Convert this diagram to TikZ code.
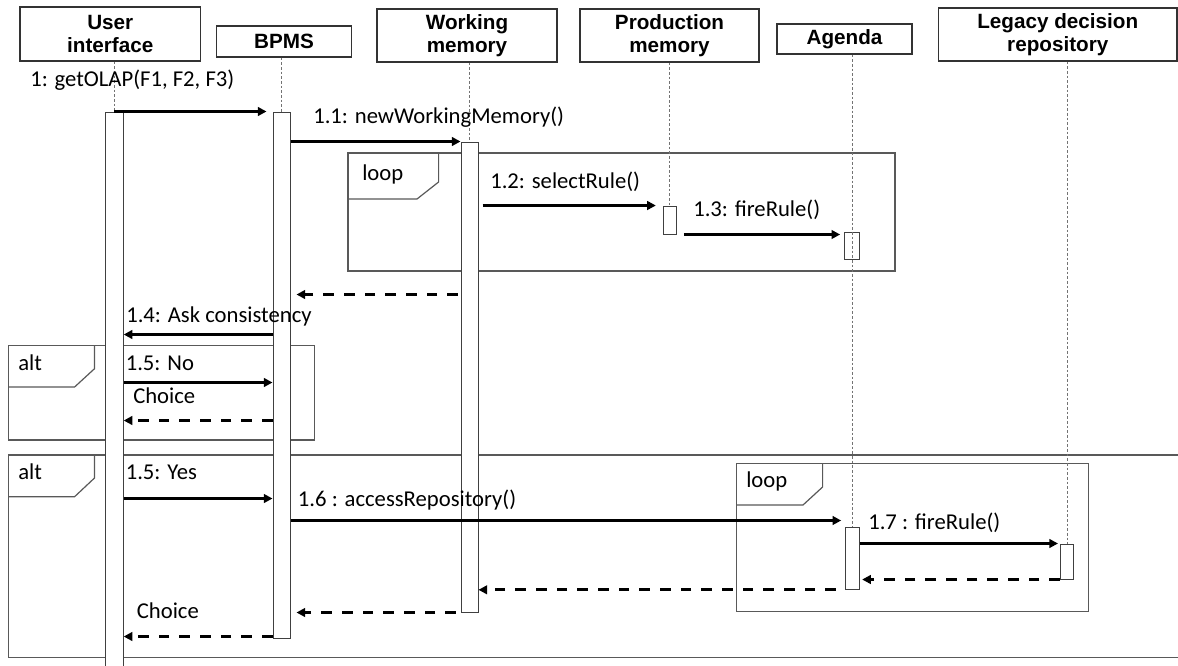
\documentclass[tikz,border=0pt]{standalone}
\usepackage{fontspec}
\setmainfont{Carlito}
\newfontfamily\headfont{Liberation Sans}
\usetikzlibrary{arrows.meta,fit}
\begin{document}
\begin{tikzpicture}[x=0.75pt,y=-0.75pt,
  head/.style={draw=black!80, line width=0.9pt, inner sep=0pt, align=center,
    font=\headfont\bfseries\fontsize{15.5}{17}\selectfont},
  bar/.style={draw=black!75, line width=0.75pt, fill=white, inner sep=0pt},
  frame/.style={draw=black!65, line width=0.9pt},
  life/.style={draw=black!55, line width=0.7pt, dash pattern=on 2pt off 1.5pt},
  msg/.style={line width=2.25pt, -{Triangle[length=6.5pt,width=6.5pt]}},
  ret/.style={line width=2.4pt, dash pattern=on 8pt off 7.5pt, -{Triangle[length=6.5pt,width=6.5pt]}},
  lbl/.style={anchor=base west, inner sep=0pt, font=\fontsize{17}{20}\selectfont}]
\clip (0,0) rectangle (1178,665);
\fill[white] (0,0) rectangle (1178,665);

% participants
\node[head, minimum width=135.4pt, minimum height=40.5pt]  (ui)   at (110.25,34)  {User\\interface};
\node[head, minimum width=101pt,   minimum height=23.25pt] (bpms) at (284,41.5)   {BPMS};
\node[head, minimum width=135pt,   minimum height=39.75pt] (wm)   at (467,35.5)   {Working\\memory};
\node[head, minimum width=134.25pt,minimum height=39.75pt] (pm)   at (669.5,35.5) {Production\\memory};
\node[head, minimum width=101.25pt,minimum height=22.5pt]  (ag)   at (844.5,39)   {Agenda};
\node[head, minimum width=178.9pt, minimum height=39.75pt] (lg)   at (1057.75,34.5) {Legacy decision\\repository};

% message rows
\coordinate (r141) at (0,141.5);
\coordinate (r294) at (0,294.5);
\coordinate (r334) at (0,334.5);
\coordinate (r382) at (0,382.5);
\coordinate (r420) at (0,420.5);
\coordinate (r498) at (0,498.5);
\coordinate (r520) at (0,520.5);
\coordinate (r636) at (0,636.5);

% combined fragments
\draw[frame] (348,153) rectangle (895,271);
\draw[frame] (348,199) -- (417,199) -- (438.6,182) -- (438.6,153);
\node[lbl] (loopa) at (362,180.5) {loop};

\draw[frame] (8.4,345.7) rectangle (314.6,440);
\draw[frame] (8.4,387) -- (74.6,387) -- (94.5,368.7) -- (94.5,345.7);
\node[lbl] (alta) at (18,370) {alt};

\draw[frame] (8.4,455) rectangle (1200,657.7);
\draw[frame] (8.4,496.7) -- (74.6,496.7) -- (94.5,478) -- (94.5,455);
\node[lbl] (altb) at (18,479) {alt};

\draw[frame] (736.4,463.3) rectangle (1088.8,611.7);
\draw[frame] (736.4,505) -- (803,505) -- (822.6,487) -- (822.6,463.3);
\node[lbl] (loopb) at (746,487.3) {loop};

% activation bars
\node[bar, fit={(105.6,112) (123.2,680)}]  (uibar)   {};
\node[bar, fit={(273,112) (290,638)}]      (bpmsbar) {};
\node[bar, fit={(461,142) (478,612)}]      (wmbar)   {};
\node[bar, fit={(663,206) (676,234)}]      (pmbar)   {};
\node[bar, fit={(844,232) (859.5,259)}]    (agbara)  {};
\node[bar, fit={(845.7,527.7) (859,589.3)}] (agbarb) {};
\node[bar, fit={(1060.5,544) (1073.5,579)}] (lgbar)  {};

% lifelines
\draw[life] (uibar.north |- ui.south) -- (uibar.north);
\draw[life] (bpmsbar.north |- bpms.south) -- (bpmsbar.north);
\draw[life] (wmbar.north |- wm.south) -- (wmbar.north);
\draw[life] (pmbar.north |- pm.south) -- (pmbar.north);
\draw[life] (agbarb.north |- ag.south) -- (agbarb.north);
\draw[life] (lgbar.north |- lg.south) -- (lgbar.north);

% messages
\draw[msg, shorten >=4.5pt] (uibar.north) -- (bpmsbar.north west);
\draw[msg] (bpmsbar.east |- r141) -- (wmbar.west |- r141);
\draw[msg, shorten <=3pt, shorten >=5pt] (wmbar.east |- pmbar.north) -- (pmbar.north west);
\draw[msg, shorten <=5.5pt, shorten >=2.5pt] (pmbar.south east) -- (agbara.west |- pmbar.south);
\draw[ret, shorten <=2pt, shorten >=4.5pt] (wmbar.west |- r294) -- (bpmsbar.east |- r294);
\draw[msg] (bpmsbar.west |- r334) -- (uibar.east |- r334);
\draw[msg] (uibar.east |- r382) -- (bpmsbar.west |- r382);
\draw[ret] (bpmsbar.west |- r420) -- (uibar.east |- r420);
\draw[msg] (uibar.east |- r498) -- (bpmsbar.west |- r498);
\draw[msg, shorten >=3pt] (bpmsbar.east |- r520) -- (agbarb.west |- r520);
\draw[msg, shorten >=1.5pt] (agbarb.east |- lgbar.north) -- (lgbar.north west);
\draw[ret, shorten >=2pt] (lgbar.south west) -- (agbarb.east |- lgbar.south);
\draw[ret, shorten <=7pt] (agbarb.south west) -- (wmbar.east |- agbarb.south);
\draw[ret, shorten <=3.5pt, shorten >=4.5pt] (wmbar.south west) -- (bpmsbar.east |- wmbar.south);
\draw[ret] (bpmsbar.west |- r636) -- (uibar.east |- r636);

% message labels
\node[lbl] (ma) at (30,86)    {1: getOLAP(F1, F2, F3)};
\node[lbl] (mb) at (313,123)  {1.1: newWorkingMemory()};
\node[lbl] (mc) at (490,188)  {1.2: selectRule()};
\node[lbl] (md) at (693,216)  {1.3: fireRule()};
\node[lbl] (me) at (126,322)  {1.4: Ask consistency};
\node[lbl] (mf) at (125.5,370) {1.5: No};
\node[lbl] (mg) at (133,403)  {Choice};
\node[lbl] (mh) at (125.5,479) {1.5: Yes};
\node[lbl] (mi) at (297.7,506.7) {1.6 : accessRepository()};
\node[lbl] (mj) at (868,529)  {1.7 : fireRule()};
\node[lbl] (mk) at (136.6,618) {Choice};
\end{tikzpicture}
\end{document}
